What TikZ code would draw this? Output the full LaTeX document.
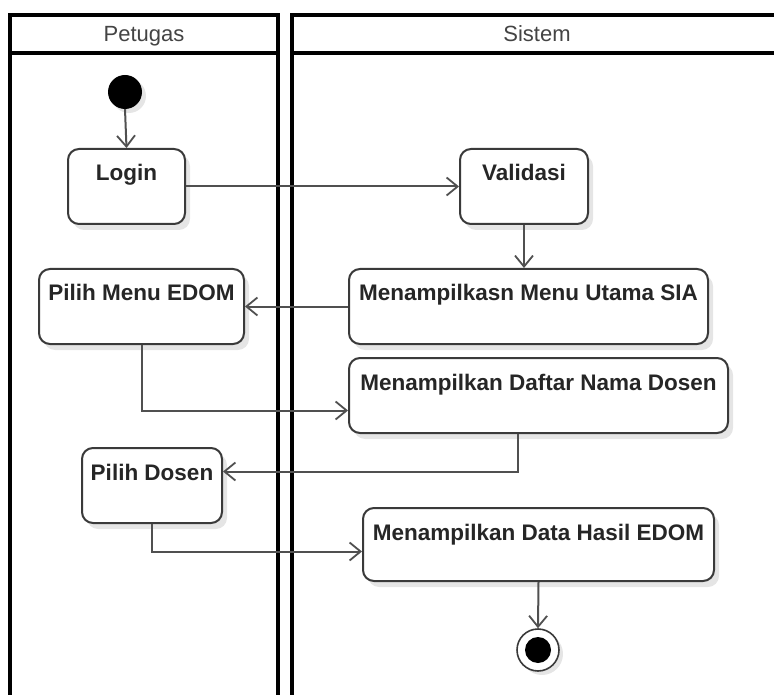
\documentclass[tikz,border=0pt]{standalone}
\usepackage{fontspec}
\setmainfont{Liberation Sans}
\usetikzlibrary{arrows.meta,shadows,calc}
\definecolor{boxline}{HTML}{3A3A3A}
\definecolor{flowline}{HTML}{505050}
\definecolor{headtext}{HTML}{444444}
\tikzset{
  lane/.style={draw=black, line width=3.2pt},
  act/.style={draw=boxline, line width=2pt, rounded corners=11pt, fill=white,
    anchor=north west, inner xsep=0pt, inner ysep=0pt,
    text height=32pt, text depth=43pt, align=center,
    font=\bfseries\fontsize{22.5}{27}\selectfont, text=black!85,
    drop shadow={shadow xshift=5pt, shadow yshift=-6pt, fill=black, opacity=0.1}},
  flow/.style={draw=flowline, line width=2pt,
    -{Straight Barb[length=11pt,width=18pt,line width=1.8pt]}},
  headlbl/.style={font=\fontsize{22}{26}\selectfont, text=headtext, anchor=base},
  startnode/.style={circle, fill=black, minimum size=34pt, inner sep=0pt,
    drop shadow={shadow xshift=4pt, shadow yshift=-4pt, fill=black, opacity=0.1}},
  endnode/.style={circle, draw=boxline, line width=1.6pt, fill=white, minimum size=42pt, inner sep=0pt,
    path picture={\fill[black] (path picture bounding box.center) circle (13pt);},
    drop shadow={shadow xshift=4pt, shadow yshift=-4pt, fill=black, opacity=0.1}}
}
\begin{document}
\begin{tikzpicture}[x=1pt,y=-1pt]
\useasboundingbox (0,0) rectangle (774,695);
\clip (0,0) rectangle (774,695);
\fill[white] (0,0) rectangle (774,695);
% swimlanes
\draw[lane] (10,15) rectangle (278,710);
\draw[lane] (10,53) -- (278,53);
\draw[lane] (292,15) rectangle (782,710);
\draw[lane] (292,53) -- (782,53);
\node[headlbl] (hp) at (144,42) {Petugas};
\node[headlbl] (hs) at (537,42) {Sistem};
% nodes
\node[startnode] (start) at (125,92) {};
\node[act, minimum width=117pt] (login) at (67,148) {Login};
\node[act, minimum width=128pt] (validasi) at (459,148) {Validasi};
\node[act, minimum width=359pt] (utama) at (348,268) {Menampilkasn Menu Utama SIA};
\node[act, minimum width=205pt] (pilihmenu) at (38,268) {Pilih Menu EDOM};
\node[act, minimum width=379pt] (daftar) at (348,357) {Menampilkan Daftar Nama Dosen};
\node[act, minimum width=140pt] (pilihdosen) at (81,447) {Pilih Dosen};
\node[act, minimum width=351pt, text depth=41pt] (hasil) at (362,507) {Menampilkan Data Hasil EDOM};
\node[endnode] (end) at (538,650) {};
% flows
\draw[flow] (start.south) -- (login.north);
\draw[flow] (login.east) -- (validasi.west);
\draw[flow] (validasi.south) -- (validasi.south |- utama.north);
\draw[flow] (utama.west) -- (pilihmenu.east);
\draw[flow] (pilihmenu.south) |- ([yshift=-15pt]daftar.west);
\draw[flow] ([xshift=-21pt]daftar.south) |- ([yshift=14pt]pilihdosen.east);
\draw[flow] (pilihdosen.south) |- ([yshift=-7pt]hasil.west);
\draw[flow] (hasil.south) -- (end.north);
\end{tikzpicture}
\end{document}
